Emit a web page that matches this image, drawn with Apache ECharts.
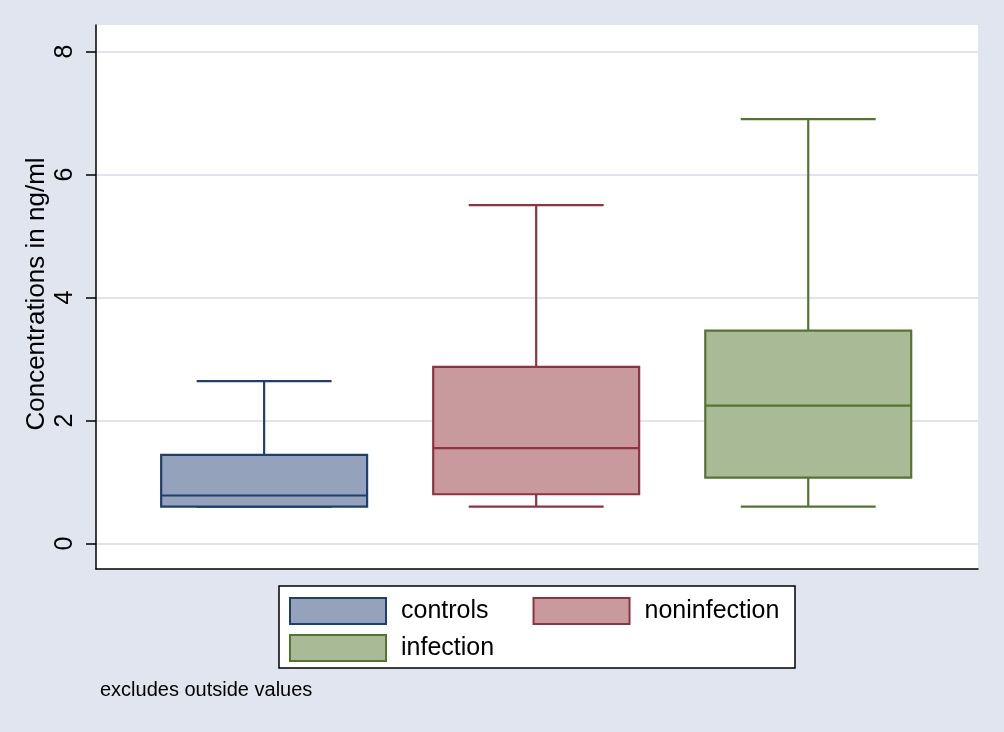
<!DOCTYPE html>
<html>
<head>
<meta charset="utf-8">
<script src="https://cdn.jsdelivr.net/npm/echarts@6/dist/echarts.min.js"></script>
<style>
  html, body { margin: 0; padding: 0; }
  #main { width: 1004px; height: 732px; }
</style>
</head>
<body>
<div id="main"></div>
<script>
// data
const groups = ["controls", "noninfection", "infection"];
const lowerWhisker = [0.6, 0.6, 0.6];
const q1 = [0.6, 0.8, 1.07];
const median = [0.78, 1.55, 2.24];
const q3 = [1.44, 2.87, 3.46];
const upperWhisker = [2.64, 5.5, 6.9];
const yTicks = [0, 2, 4, 6, 8];

// styles
const fills = ["#94a2bc", "#c99a9d", "#a9ba96"];
const strokes = ["#1f3f6f", "#8e3340", "#55752f"];
const FONT = "Liberation Sans, Arial, sans-serif";
const BOX_WIDTH = 0.757; // in x units
const CAP_WIDTH = 0.496;

function renderBox(params, api) {
  const x = api.value(0);
  const lo = api.coord([x, api.value(1)]);
  const b1 = api.coord([x, api.value(2)]);
  const md = api.coord([x, api.value(3)]);
  const b3 = api.coord([x, api.value(4)]);
  const hi = api.coord([x, api.value(5)]);
  const hb = api.size([BOX_WIDTH, 0])[0] / 2;
  const hc = api.size([CAP_WIDTH, 0])[0] / 2;
  const cx = lo[0];
  const stroke = strokes[params.seriesIndex];
  const line = { stroke: stroke, lineWidth: 2.2, fill: null };
  return {
    type: "group",
    children: [
      { type: "line", shape: { x1: cx, y1: b3[1], x2: cx, y2: hi[1] }, style: line },
      { type: "line", shape: { x1: cx, y1: b1[1], x2: cx, y2: lo[1] }, style: line },
      { type: "line", shape: { x1: cx - hc, y1: hi[1], x2: cx + hc, y2: hi[1] }, style: line },
      { type: "line", shape: { x1: cx - hc, y1: lo[1], x2: cx + hc, y2: lo[1] }, style: line },
      {
        type: "rect",
        shape: { x: cx - hb, y: b3[1], width: hb * 2, height: b1[1] - b3[1] },
        style: { fill: fills[params.seriesIndex], stroke: stroke, lineWidth: 2.2 },
      },
      { type: "line", shape: { x1: cx - hb, y1: md[1], x2: cx + hb, y2: md[1] }, style: line },
    ],
  };
}

const series = groups.map((name, i) => ({
  name: name,
  type: "custom",
  renderItem: renderBox,
  itemStyle: { color: fills[i], borderColor: strokes[i] },
  encode: { x: 0, y: [1, 2, 3, 4, 5] },
  data: [[i + 1, lowerWhisker[i], q1[i], median[i], q3[i], upperWhisker[i]]],
}));

function legendItem(name) {
  const i = groups.indexOf(name);
  return {
    name: name,
    icon: "rect",
    itemStyle: { color: fills[i], borderColor: strokes[i], borderWidth: 2 },
  };
}

const legendBase = {
  orient: "horizontal",
  left: 289,
  padding: 0,
  itemWidth: 96,
  itemHeight: 26,
  itemGap: 44,
  selectedMode: false,
  textStyle: { color: "#000", fontSize: 25, fontFamily: FONT, padding: [0, 0, 0, 10] },
};

const chart = echarts.init(document.getElementById("main"));
chart.setOption({
  backgroundColor: "#e1e5ef",
  animation: false,
  grid: {
    left: 96,
    right: 26,
    top: 25,
    bottom: 163,
    show: true,
    backgroundColor: "#ffffff",
    borderWidth: 0,
  },
  xAxis: {
    type: "value",
    min: 0.382,
    max: 3.624,
    axisLine: { show: true, onZero: false, lineStyle: { color: "#000", width: 1.5 } },
    axisTick: { show: false },
    axisLabel: { show: false },
    splitLine: { show: false },
  },
  yAxis: {
    type: "value",
    min: -0.415,
    max: 8.43,
    axisLine: { show: true, onZero: false, lineStyle: { color: "#000", width: 1.5 } },
    axisTick: { show: true, length: 10, customValues: yTicks, lineStyle: { color: "#000", width: 1.5 } },
    axisLabel: {
      customValues: yTicks,
      rotate: 90,
      margin: 31,
      align: "center",
      verticalAlign: "middle",
      color: "#000",
      fontSize: 25,
      fontFamily: FONT,
    },
    splitLine: { show: true, lineStyle: { color: "#e0e4ee", width: 2 } },
  },
  legend: [
    Object.assign({}, legendBase, { top: 597, data: [legendItem("controls"), legendItem("noninfection")] }),
    Object.assign({}, legendBase, { top: 634, data: [legendItem("infection")] }),
  ],
  graphic: [
    {
      type: "text",
      x: 37,
      y: 294,
      rotation: Math.PI / 2,
      style: {
        text: "Concentrations in ng/ml",
        fill: "#000",
        fontSize: 26,
        fontFamily: FONT,
        align: "center",
        verticalAlign: "middle",
      },
    },
    {
      type: "rect",
      z: 0,
      shape: { x: 279, y: 586, width: 516, height: 82 },
      style: { fill: "#ffffff", stroke: "#000", lineWidth: 1.5 },
    },
    {
      type: "text",
      left: 100,
      top: 680,
      style: { text: "excludes outside values", fill: "#000", fontSize: 20, fontFamily: FONT },
    },
  ],
  series: series,
});
</script>
</body>
</html>
